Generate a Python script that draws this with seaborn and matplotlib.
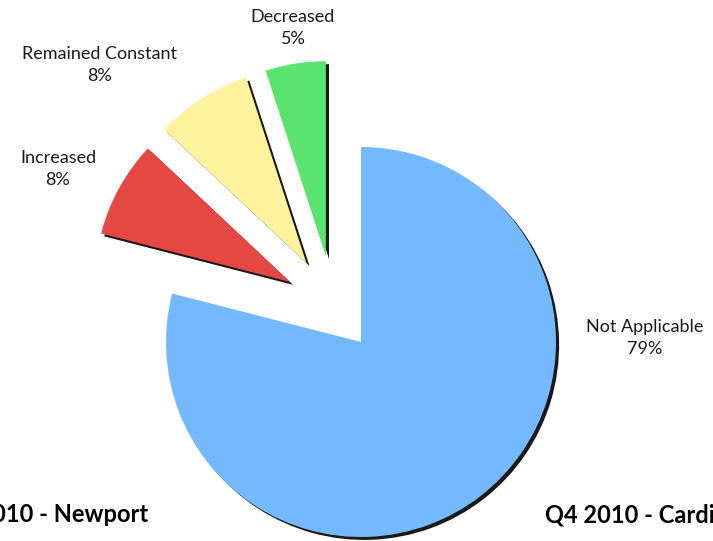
import matplotlib
matplotlib.use("Agg")
import matplotlib.pyplot as plt
from matplotlib.patches import Wedge
import seaborn as sns

# ---- data ----
categories = ["Not Applicable", "Increased", "Remained Constant", "Decreased"]
values = [79, 8, 8, 5]
pct_labels = ["79%", "8%", "8%", "5%"]
colors = ["#74B9FF", "#E54843", "#FFF39D", "#5AE36E"]
left_title = "Q4 2010 - Newport"
right_title = "Q4 2010 - Cardiff"

# ---- layout (styling) ----
W, H = 713, 541
CX, CY, R = 361, 342, 195          # pie centre / radius in pixels
slice_offsets = [(0.0, 0.0), (-0.364, 0.308), (-0.28, 0.405), (-0.18, 0.44)]
label_pos = [(645, 338), (58, 169), (99, 65), (293, 28)]

sns.set_theme(style="white")
plt.rcParams["font.family"] = ["Lato", "DejaVu Sans"]

fig = plt.figure(figsize=(W / 100, H / 100), dpi=100)
ax = fig.add_axes([0, 0, 1, 1])
ax.set_axis_off()

wedges, _ = ax.pie(values, colors=sns.color_palette(colors), startangle=90,
                   counterclock=False, radius=1.0,
                   wedgeprops=dict(linewidth=0, zorder=3))

shadow_off = (0.016, -0.015)
for w, (dx, dy) in zip(wedges, slice_offsets):
    w.set_center((dx, dy))
    sh = Wedge((dx + shadow_off[0], dy + shadow_off[1]), w.r, w.theta1, w.theta2,
               facecolor="black", edgecolor="none", alpha=0.9, zorder=2)
    ax.add_patch(sh)

ax.set_aspect("auto")
ax.set_xlim(-CX / R, (W - CX) / R)
ax.set_ylim(-(H - CY) / R, CY / R)

for cat, pct, (px, py) in zip(categories, pct_labels, label_pos):
    fig.text(px / W, 1 - py / H, f"{cat}\n{pct}", ha="center", va="center",
             fontsize=13, linespacing=1.5, color="#1a1a1a")

fig.text(148 / W, 1 - 515 / H, left_title, ha="right", va="center",
         fontsize=17, fontweight="bold", color="black")
fig.text(545 / W, 1 - 515 / H, right_title, ha="left", va="center",
         fontsize=17, fontweight="bold", color="black")

fig.savefig("out.png", dpi=100)
